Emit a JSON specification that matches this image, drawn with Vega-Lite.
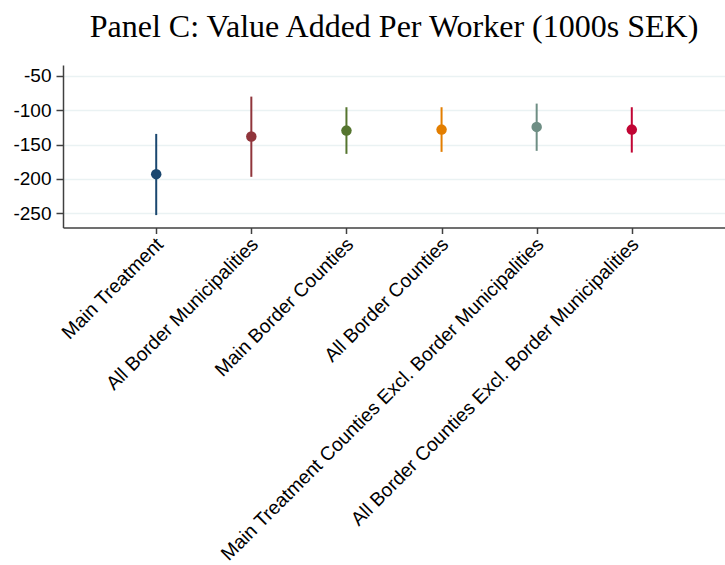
{
  "$schema": "https://vega.github.io/schema/vega-lite/v6.json",
  "autosize": {"type": "none"},
  "width": 662,
  "height": 162.5,
  "padding": {"left": 63, "top": 65, "right": 0, "bottom": 337.5},
  "background": "white",
  "title": {
    "text": "Panel C: Value Added Per Worker (1000s SEK)",
    "font": "Liberation Serif",
    "fontSize": 32,
    "fontWeight": "normal",
    "color": "#000000",
    "anchor": "middle",
    "baseline": "alphabetic",
    "offset": -4
  },
  "data": {
    "values": [
      {"sample": "Main Treatment", "estimate": -193.2, "lo": -252.9, "hi": -134.5},
      {"sample": "All Border Municipalities", "estimate": -138.4, "lo": -197.1, "hi": -80.1},
      {"sample": "Main Border Counties", "estimate": -129.7, "lo": -163.6, "hi": -95.6},
      {"sample": "All Border Counties", "estimate": -128.2, "lo": -160.7, "hi": -95.6},
      {"sample": "Main Treatment Counties Excl. Border Municipalities", "estimate": -124.3, "lo": -159.2, "hi": -90.3},
      {"sample": "All Border Counties Excl. Border Municipalities", "estimate": -128.2, "lo": -161.7, "hi": -95.6}
    ]
  },
  "encoding": {
    "x": {
      "field": "sample",
      "type": "nominal",
      "sort": null,
      "scale": {"type": "point", "padding": 0.98},
      "axis": {
        "title": null,
        "labelAngle": -45,
        "labelFont": "Liberation Sans",
        "labelFontSize": 19.3,
        "labelColor": "#000000",
        "labelLimit": 1000,
        "labelOverlap": false,
        "labelPadding": 1,
        "labelOffset": -3,
        "tickSize": 6,
        "tickColor": "#404040",
        "tickWidth": 1.5,
        "domainColor": "#404040",
        "domainWidth": 1.5,
        "grid": false
      }
    },
    "color": {
      "field": "sample",
      "type": "nominal",
      "sort": null,
      "legend": null,
      "scale": {"range": ["#1a476f", "#90353b", "#55752f", "#e37e00", "#6e8e84", "#c10534"]}
    }
  },
  "layer": [
    {
      "mark": {"type": "rule", "strokeWidth": 2},
      "encoding": {
        "y": {
          "field": "lo",
          "type": "quantitative",
          "scale": {"domain": [-271, -34], "nice": false, "zero": false},
          "axis": {
            "title": null,
            "values": [-50, -100, -150, -200, -250],
            "labelExpr": "'-' + (-datum.value)",
            "labelFont": "Liberation Sans",
            "labelFontSize": 19,
            "labelColor": "#000000",
            "labelPadding": 5,
            "tickSize": 7,
            "tickColor": "#404040",
            "tickWidth": 1.5,
            "domainColor": "#404040",
            "domainWidth": 1.5,
            "grid": true,
            "gridColor": "#eaf2f3",
            "gridWidth": 1.5
          }
        },
        "y2": {"field": "hi"}
      }
    },
    {
      "mark": {"type": "point", "filled": true, "opacity": 1, "size": 110, "shape": "circle"},
      "encoding": {
        "y": {"field": "estimate", "type": "quantitative"}
      }
    }
  ],
  "config": {"view": {"stroke": null}}
}
